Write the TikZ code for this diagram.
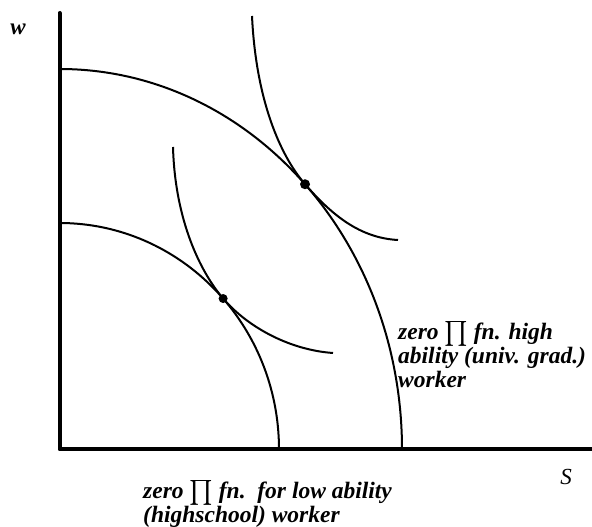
\documentclass[tikz,border=0pt]{standalone}
\usepackage{amsmath}
\usepackage{fontspec}
\setmainfont{Liberation Serif}
\usetikzlibrary{calc}
\tikzset{
  axis/.style={line width=4pt, line join=round, line cap=round},
  curve/.style={line width=2pt},
  dot/.style={circle, fill=black, inner sep=0pt, minimum size=#1},
  curvelabel/.style={font=\fontsize{23.5}{24}\selectfont\bfseries\itshape,
    align=left, inner sep=0pt, anchor=north west},
  axislabel/.style={font=\fontsize{23}{23}\selectfont\itshape, inner sep=0pt, anchor=base},
}

\begin{document}
\begin{tikzpicture}[x=1pt, y=1pt]
\useasboundingbox (0,0) rectangle (592,527);
% axes
\coordinate (O) at (59.5,77.5);
\coordinate (wTop) at (59.5,514);
\coordinate (sEnd) at (592,77.5);
\draw[axis] (wTop) -- (O) -- (sEnd);
\node[axislabel, font=\fontsize{23}{23}\selectfont\bfseries\itshape] (wlab) at (18,492) {w};
\node[axislabel] (slab) at (566,42) {S};
% zero profit frontiers
\draw[curve] (59.5,458) arc[start angle=90, end angle=0, x radius=342.5pt, y radius=380.5pt];
\draw[curve] (59.5,304) arc[start angle=90, end angle=0, x radius=219.5pt, y radius=226.5pt];
\path (O) ++(44.2:342.5pt and 380.5pt) coordinate (hi);
\path (O) ++(41.8:219.5pt and 226.5pt) coordinate (lo);
% indifference curves
\coordinate (hiTop) at (252,511);
\coordinate (hiEnd) at (398,287);
\coordinate (loTop) at (173,380);
\coordinate (loEnd) at (333,174);
\draw[curve] (hiTop) .. controls +(4,-84) and +(-25,29) .. (hi)
  .. controls +(27,-31) and +(-38,2) .. (hiEnd);
\draw[curve] (loTop) .. controls +(2,-73) and +(-23,27) .. (lo)
  .. controls +(25,-29) and +(-43,3) .. (loEnd);
\node[dot=10pt] at (hi) {};
\node[dot=9pt] at (lo) {};
% labels
\node[curvelabel] (hiLabel) at (398,206)
  {zero $\prod$ fn. high\\ability (univ. grad.)\\worker};
\node[curvelabel, font=\fontsize{23.5}{19}\selectfont\bfseries\itshape] (loLabel) at (143,47)
  {zero $\prod$ fn.\ \ for low ability\\(highschool) worker};
\end{tikzpicture}
\end{document}
